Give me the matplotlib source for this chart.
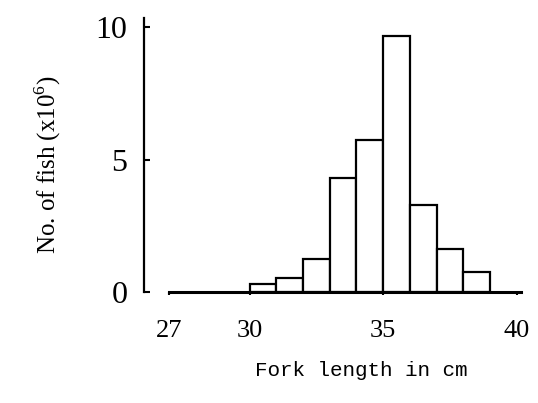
import matplotlib
matplotlib.use("Agg")
import matplotlib.pyplot as plt

# fork length classes (cm, left edge) and number of fish (x10^6)
bin_left = [30, 31, 32, 33, 34, 35, 36, 37, 38]
counts = [0.30, 0.54, 1.26, 4.31, 5.75, 9.67, 3.27, 1.64, 0.76]
xticks = [27, 30, 35, 40]
yticks = [0, 5, 10]

plt.rcParams['mathtext.fontset'] = 'custom'
plt.rcParams['mathtext.rm'] = 'Liberation Serif'

fig = plt.figure(figsize=(5.38, 4.03), dpi=100)
ax = fig.add_axes([0.2677, 0.2556, 0.7175, 0.6998])

ax.bar(bin_left, counts, width=1, align='edge', facecolor='white',
       edgecolor='black', linewidth=1.6, zorder=2)

ax.set_xlim(26.05, 40.5)
ax.set_ylim(-0.3, 10.34)

for s in ['top', 'right']:
    ax.spines[s].set_visible(False)
ax.spines['bottom'].set_position(('data', 0))
ax.spines['bottom'].set_bounds(27, 40.15)
ax.spines['bottom'].set_linewidth(2.2)
ax.spines['bottom'].set_zorder(3)
ax.spines['left'].set_bounds(0, 10.34)
ax.spines['left'].set_linewidth(1.6)

ax.set_xticks(xticks)
ax.set_xticklabels([str(x) for x in xticks], family='Liberation Serif', fontsize=19)
ax.set_yticks(yticks)
ax.set_yticklabels([str(y) for y in yticks], family='Liberation Serif', fontsize=23)
ax.tick_params(axis='x', direction='out', length=2, width=1.5, pad=18)
ax.tick_params(axis='y', direction='in', length=4, width=1.5, pad=12)

fig.text(361 / 538, 1 - 371 / 403, 'Fork length in cm', family='Liberation Mono',
         fontsize=15, ha='center', va='center')
fig.text(48 / 538, 1 - 165 / 403, r'No. of fish (x10$^{\mathrm{6}}$)',
         family='Liberation Serif', fontsize=18, rotation=90, ha='center', va='center')

plt.savefig("out.png")
